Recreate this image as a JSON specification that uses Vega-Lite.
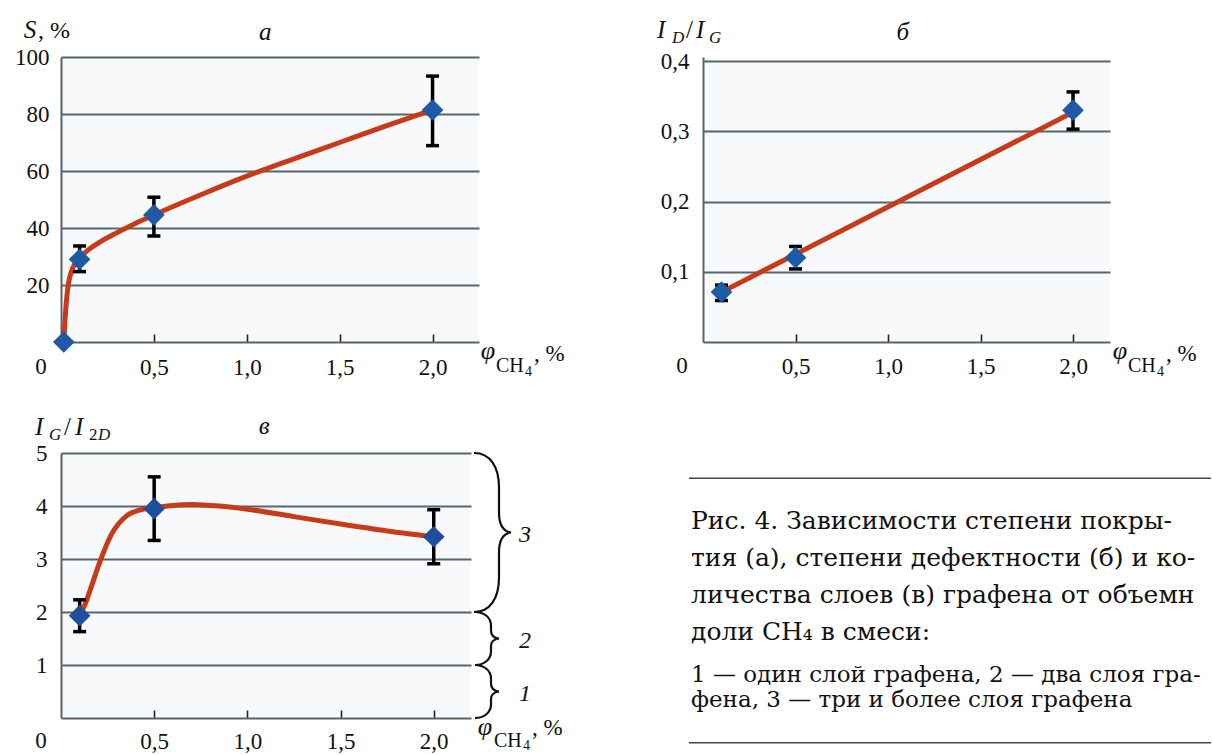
{
  "$schema": "https://vega.github.io/schema/vega-lite/v6.json",
  "background": "white",
  "padding": {"left": 14, "top": 18, "right": 0, "bottom": 0},
  "config": {
    "font": "Liberation Serif",
    "view": {"stroke": null},
    "axis": {"labelFont": "Liberation Serif", "labelFontSize": 23, "labelColor": "#111", "domainColor": "#56666c", "domainWidth": 2, "gridColor": "#56666c", "gridWidth": 2, "tickColor": "#222", "tickWidth": 1.6},
    "text": {"font": "Liberation Serif", "fontSize": 24, "baseline": "alphabetic", "align": "left", "color": "#111"}
  },
  "datasets": {
    "a_pts": [{"x": 0.015, "y": 0}, {"x": 0.1, "y": 29, "lo": 24.7, "hi": 33.7}, {"x": 0.5, "y": 44.6, "lo": 37.2, "hi": 50.8}, {"x": 2.0, "y": 81.4, "lo": 68.9, "hi": 93.3}],
    "a_curve": [{"x": 0.015, "y": 0}, {"x": 0.022, "y": 8}, {"x": 0.03, "y": 15}, {"x": 0.04, "y": 20.5}, {"x": 0.055, "y": 24.5}, {"x": 0.075, "y": 27.5}, {"x": 0.1, "y": 29.5}, {"x": 0.15, "y": 32.5}, {"x": 0.2, "y": 34.7}, {"x": 0.3, "y": 38.3}, {"x": 0.4, "y": 41.6}, {"x": 0.5, "y": 44.6}, {"x": 0.75, "y": 51.6}, {"x": 1.0, "y": 58.2}, {"x": 1.25, "y": 64.2}, {"x": 1.5, "y": 70}, {"x": 1.75, "y": 75.8}, {"x": 2.0, "y": 81.4}],
    "b_pts": [{"x": 0.1, "y": 0.071, "lo": 0.059, "hi": 0.081}, {"x": 0.5, "y": 0.12, "lo": 0.104, "hi": 0.136}, {"x": 2.0, "y": 0.33, "lo": 0.303, "hi": 0.356}],
    "b_curve": [{"x": 0.1, "y": 0.071}, {"x": 2.0, "y": 0.327}],
    "v_pts": [{"x": 0.1, "y": 1.93, "lo": 1.63, "hi": 2.23}, {"x": 0.5, "y": 3.95, "lo": 3.35, "hi": 4.55}, {"x": 2.0, "y": 3.42, "lo": 2.91, "hi": 3.93}],
    "v_curve": [{"x": 0.1, "y": 1.93}, {"x": 0.13, "y": 2.15}, {"x": 0.16, "y": 2.45}, {"x": 0.21, "y": 2.96}, {"x": 0.27, "y": 3.46}, {"x": 0.35, "y": 3.81}, {"x": 0.42, "y": 3.92}, {"x": 0.5, "y": 3.97}, {"x": 0.6, "y": 4.01}, {"x": 0.7, "y": 4.03}, {"x": 0.85, "y": 4.0}, {"x": 1.0, "y": 3.94}, {"x": 1.25, "y": 3.8}, {"x": 1.5, "y": 3.66}, {"x": 1.75, "y": 3.53}, {"x": 2.0, "y": 3.42}],
    "v_braces": [{"n": "1", "mid": 0.5}, {"n": "2", "mid": 1.5}, {"n": "3", "mid": 3.5}]
  },
  "columns": 2,
  "spacing": {"row": 111, "column": 224},
  "bounds": "flush",
  "concat": [
    {
      "width": 418, "height": 285,
      "view": {"fill": "#f8f9fb"},
      "layer": [
        {"data": {"name": "a_curve"}, "mark": {"type": "line", "color": "#c73b1b", "strokeWidth": 5, "interpolate": "monotone"},
         "encoding": {
           "x": {"field": "x", "type": "quantitative", "scale": {"domain": [0, 2.25], "nice": false, "zero": false},
                 "axis": {"values": [0.5, 1, 1.5, 2], "labelExpr": "replace(format(datum.value,'.1f'),'.',',')", "labelFont": "Liberation Serif", "title": null, "grid": false, "tickSize": -8, "labelPadding": 33, "labelBaseline": "middle"}},
           "y": {"field": "y", "type": "quantitative", "scale": {"domain": [0, 100], "nice": false},
                 "axis": {"values": [20, 40, 60, 80, 100], "labelFont": "Liberation Serif", "title": null, "grid": true, "ticks": false, "labelPadding": 12}}}},
        {"data": {"name": "a_pts"}, "mark": {"type": "rule", "color": "#000", "strokeWidth": 3.5},
         "encoding": {"x": {"field": "x", "type": "quantitative", "axis": {"title": null}}, "y": {"field": "lo", "type": "quantitative", "axis": {"title": null}}, "y2": {"field": "hi"}}},
        {"data": {"name": "a_pts"}, "mark": {"type": "tick", "orient": "horizontal", "size": 13, "thickness": 3.5, "color": "#000", "opacity": 1},
         "encoding": {"x": {"field": "x", "type": "quantitative", "axis": {"title": null}}, "y": {"field": "lo", "type": "quantitative", "axis": {"title": null}}}},
        {"data": {"name": "a_pts"}, "mark": {"type": "tick", "orient": "horizontal", "size": 13, "thickness": 3.5, "color": "#000", "opacity": 1},
         "encoding": {"x": {"field": "x", "type": "quantitative", "axis": {"title": null}}, "y": {"field": "hi", "type": "quantitative", "axis": {"title": null}}}},
        {"data": {"name": "a_pts"}, "mark": {"type": "point", "shape": "diamond", "filled": true, "color": "#1f5aa6", "size": 470, "opacity": 1},
         "encoding": {"x": {"field": "x", "type": "quantitative", "axis": {"title": null}}, "y": {"field": "y", "type": "quantitative", "axis": {"title": null}}}},
        {"data": {"values": [{}]}, "mark": {"type": "text", "text": "S", "fontSize": 25, "fontStyle": "italic", "align": "center", "dx": -31, "dy": -19},
         "encoding": {"x": {"datum": 0, "axis": {"title": null}}, "y": {"datum": 100, "axis": {"title": null}}}},
        {"data": {"values": [{}]}, "mark": {"type": "text", "text": ", %", "fontSize": 24, "dx": -23, "dy": -19},
         "encoding": {"x": {"datum": 0, "axis": {"title": null}}, "y": {"datum": 100, "axis": {"title": null}}}},
        {"data": {"values": [{}]}, "mark": {"type": "text", "text": "а", "fontSize": 25, "fontStyle": "italic", "align": "center", "baseline": "middle", "dy": -25},
         "encoding": {"x": {"datum": 1.1, "axis": {"title": null}}, "y": {"datum": 100, "axis": {"title": null}}}},
        {"data": {"values": [{}]}, "mark": {"type": "text", "text": "0", "fontSize": 23, "align": "center", "baseline": "middle", "dx": -20, "dy": 25},
         "encoding": {"x": {"datum": 0, "axis": {"title": null}}, "y": {"datum": 0, "axis": {"title": null}}}},
        {"data": {"values": [{}]}, "mark": {"type": "text", "text": "φ", "fontSize": 26, "fontStyle": "italic", "align": "center", "dx": 9, "dy": 17},
         "encoding": {"x": {"datum": 2.25, "axis": {"title": null}}, "y": {"datum": 0, "axis": {"title": null}}}},
        {"data": {"values": [{}]}, "mark": {"type": "text", "text": "CH", "fontSize": 20, "dx": 17, "dy": 30},
         "encoding": {"x": {"datum": 2.25, "axis": {"title": null}}, "y": {"datum": 0, "axis": {"title": null}}}},
        {"data": {"values": [{}]}, "mark": {"type": "text", "text": "4", "fontSize": 14, "dx": 46, "dy": 34},
         "encoding": {"x": {"datum": 2.25, "axis": {"title": null}}, "y": {"datum": 0, "axis": {"title": null}}}},
        {"data": {"values": [{}]}, "mark": {"type": "text", "text": ", %", "fontSize": 23, "dx": 55, "dy": 19},
         "encoding": {"x": {"datum": 2.25, "axis": {"title": null}}, "y": {"datum": 0, "axis": {"title": null}}}}
      ]
    },
    {
      "width": 407, "height": 285,
      "view": {"fill": "#f8f9fb"},
      "layer": [
        {"data": {"name": "b_curve"}, "mark": {"type": "line", "color": "#c73b1b", "strokeWidth": 5},
         "encoding": {
           "x": {"field": "x", "type": "quantitative", "scale": {"domain": [0, 2.2], "nice": false, "zero": false},
                 "axis": {"values": [0.5, 1, 1.5, 2], "labelExpr": "replace(format(datum.value,'.1f'),'.',',')", "labelFont": "Liberation Serif", "title": null, "grid": false, "tickSize": -8, "labelPadding": 32, "labelBaseline": "middle"}},
           "y": {"field": "y", "type": "quantitative", "scale": {"domain": [0, 0.4057], "nice": false},
                 "axis": {"values": [0.1, 0.2, 0.3, 0.4], "labelExpr": "replace(format(datum.value,'.1f'),'.',',')", "labelFont": "Liberation Serif", "title": null, "grid": true, "ticks": false, "labelPadding": 14}}}},
        {"data": {"name": "b_pts"}, "mark": {"type": "rule", "color": "#000", "strokeWidth": 3.5},
         "encoding": {"x": {"field": "x", "type": "quantitative", "axis": {"title": null}}, "y": {"field": "lo", "type": "quantitative", "axis": {"title": null}}, "y2": {"field": "hi"}}},
        {"data": {"name": "b_pts"}, "mark": {"type": "tick", "orient": "horizontal", "size": 13, "thickness": 3.5, "color": "#000", "opacity": 1},
         "encoding": {"x": {"field": "x", "type": "quantitative", "axis": {"title": null}}, "y": {"field": "lo", "type": "quantitative", "axis": {"title": null}}}},
        {"data": {"name": "b_pts"}, "mark": {"type": "tick", "orient": "horizontal", "size": 13, "thickness": 3.5, "color": "#000", "opacity": 1},
         "encoding": {"x": {"field": "x", "type": "quantitative", "axis": {"title": null}}, "y": {"field": "hi", "type": "quantitative", "axis": {"title": null}}}},
        {"data": {"name": "b_pts"}, "mark": {"type": "point", "shape": "diamond", "filled": true, "color": "#1f5aa6", "size": 470, "opacity": 1},
         "encoding": {"x": {"field": "x", "type": "quantitative", "axis": {"title": null}}, "y": {"field": "y", "type": "quantitative", "axis": {"title": null}}}},
        {"data": {"values": [{}]}, "mark": {"type": "text", "text": "I", "fontSize": 25, "fontStyle": "italic", "dx": -46, "dy": -23},
         "encoding": {"x": {"datum": 0, "axis": {"title": null}}, "y": {"datum": 0.4, "axis": {"title": null}}}},
        {"data": {"values": [{}]}, "mark": {"type": "text", "text": "D", "fontSize": 17, "fontStyle": "italic", "dx": -31, "dy": -18},
         "encoding": {"x": {"datum": 0, "axis": {"title": null}}, "y": {"datum": 0.4, "axis": {"title": null}}}},
        {"data": {"values": [{}]}, "mark": {"type": "text", "text": "/", "fontSize": 25, "dx": -17, "dy": -23},
         "encoding": {"x": {"datum": 0, "axis": {"title": null}}, "y": {"datum": 0.4, "axis": {"title": null}}}},
        {"data": {"values": [{}]}, "mark": {"type": "text", "text": "I", "fontSize": 25, "fontStyle": "italic", "dx": -7, "dy": -23},
         "encoding": {"x": {"datum": 0, "axis": {"title": null}}, "y": {"datum": 0.4, "axis": {"title": null}}}},
        {"data": {"values": [{}]}, "mark": {"type": "text", "text": "G", "fontSize": 17, "fontStyle": "italic", "dx": 6, "dy": -18},
         "encoding": {"x": {"datum": 0, "axis": {"title": null}}, "y": {"datum": 0.4, "axis": {"title": null}}}},
        {"data": {"values": [{}]}, "mark": {"type": "text", "text": "б", "fontSize": 25, "fontStyle": "italic", "align": "center", "baseline": "middle", "dy": -29},
         "encoding": {"x": {"datum": 1.08, "axis": {"title": null}}, "y": {"datum": 0.4, "axis": {"title": null}}}},
        {"data": {"values": [{}]}, "mark": {"type": "text", "text": "0", "fontSize": 23, "align": "center", "baseline": "middle", "dx": -21, "dy": 24},
         "encoding": {"x": {"datum": 0, "axis": {"title": null}}, "y": {"datum": 0, "axis": {"title": null}}}},
        {"data": {"values": [{}]}, "mark": {"type": "text", "text": "φ", "fontSize": 26, "fontStyle": "italic", "align": "center", "dx": 10, "dy": 17},
         "encoding": {"x": {"datum": 2.2, "axis": {"title": null}}, "y": {"datum": 0, "axis": {"title": null}}}},
        {"data": {"values": [{}]}, "mark": {"type": "text", "text": "CH", "fontSize": 20, "dx": 18, "dy": 30},
         "encoding": {"x": {"datum": 2.2, "axis": {"title": null}}, "y": {"datum": 0, "axis": {"title": null}}}},
        {"data": {"values": [{}]}, "mark": {"type": "text", "text": "4", "fontSize": 14, "dx": 47, "dy": 34},
         "encoding": {"x": {"datum": 2.2, "axis": {"title": null}}, "y": {"datum": 0, "axis": {"title": null}}}},
        {"data": {"values": [{}]}, "mark": {"type": "text", "text": ", %", "fontSize": 23, "dx": 56, "dy": 19},
         "encoding": {"x": {"datum": 2.2, "axis": {"title": null}}, "y": {"datum": 0, "axis": {"title": null}}}}
      ]
    },
    {
      "width": 410, "height": 265,
      "view": {"fill": "#f8f9fb"},
      "layer": [
        {"data": {"name": "v_curve"}, "mark": {"type": "line", "color": "#c73b1b", "strokeWidth": 5, "interpolate": "monotone"},
         "encoding": {
           "x": {"field": "x", "type": "quantitative", "scale": {"domain": [0, 2.2], "nice": false, "zero": false},
                 "axis": {"values": [0.5, 1, 1.5, 2], "labelExpr": "replace(format(datum.value,'.1f'),'.',',')", "labelFont": "Liberation Serif", "title": null, "grid": false, "tickSize": -8, "labelPadding": 31, "labelBaseline": "middle"}},
           "y": {"field": "y", "type": "quantitative", "scale": {"domain": [0, 5], "nice": false},
                 "axis": {"values": [1, 2, 3, 4, 5], "labelFont": "Liberation Serif", "title": null, "grid": true, "ticks": false, "labelPadding": 14}}}},
        {"data": {"name": "v_pts"}, "mark": {"type": "rule", "color": "#000", "strokeWidth": 3.5},
         "encoding": {"x": {"field": "x", "type": "quantitative", "axis": {"title": null}}, "y": {"field": "lo", "type": "quantitative", "axis": {"title": null}}, "y2": {"field": "hi"}}},
        {"data": {"name": "v_pts"}, "mark": {"type": "tick", "orient": "horizontal", "size": 13, "thickness": 3.5, "color": "#000", "opacity": 1},
         "encoding": {"x": {"field": "x", "type": "quantitative", "axis": {"title": null}}, "y": {"field": "lo", "type": "quantitative", "axis": {"title": null}}}},
        {"data": {"name": "v_pts"}, "mark": {"type": "tick", "orient": "horizontal", "size": 13, "thickness": 3.5, "color": "#000", "opacity": 1},
         "encoding": {"x": {"field": "x", "type": "quantitative", "axis": {"title": null}}, "y": {"field": "hi", "type": "quantitative", "axis": {"title": null}}}},
        {"data": {"name": "v_pts"}, "mark": {"type": "point", "shape": "diamond", "filled": true, "color": "#1f4f9a", "size": 470, "opacity": 1},
         "encoding": {"x": {"field": "x", "type": "quantitative", "axis": {"title": null}}, "y": {"field": "y", "type": "quantitative", "axis": {"title": null}}}},
        {"data": {"name": "v_braces"}, "mark": {"type": "point", "filled": false, "stroke": "#111", "strokeWidth": 2.2, "size": 4, "opacity": 1},
         "encoding": {"x": {"datum": 2.2, "axis": {"title": null}}, "y": {"field": "mid", "type": "quantitative", "axis": {"title": null}},
                      "shape": {"field": "n", "type": "nominal", "legend": null, "scale": {"domain": ["1", "2", "3"], "range": [
                        "M4,-26.5C13,-26.5 20,-21 20,-13L20,-8C20,-3 23,-0.5 28,0C23,0.5 20,3 20,8L20,13C20,21 13,26.5 4,26.5",
                        "M4,-26.5C13,-26.5 20,-21 20,-13L20,-8C20,-3 23,-0.5 28,0C23,0.5 20,3 20,8L20,13C20,21 13,26.5 4,26.5",
                        "M3,-79.5C19,-79.5 28,-66 28,-45L28,-20C28,-7 33,-1 40,0C33,1 28,7 28,20L28,45C28,66 19,79.5 3,79.5"]}}}},
        {"data": {"name": "v_braces"}, "mark": {"type": "text", "fontSize": 24, "fontStyle": "italic", "baseline": "middle", "dx": 48, "dy": 2},
         "encoding": {"x": {"datum": 2.2, "axis": {"title": null}}, "y": {"field": "mid", "type": "quantitative", "axis": {"title": null}}, "text": {"field": "n"}}},
        {"data": {"values": [{}]}, "mark": {"type": "text", "text": "I", "fontSize": 25, "fontStyle": "italic", "dx": -26, "dy": -18},
         "encoding": {"x": {"datum": 0, "axis": {"title": null}}, "y": {"datum": 5, "axis": {"title": null}}}},
        {"data": {"values": [{}]}, "mark": {"type": "text", "text": "G", "fontSize": 17, "fontStyle": "italic", "dx": -12, "dy": -13},
         "encoding": {"x": {"datum": 0, "axis": {"title": null}}, "y": {"datum": 5, "axis": {"title": null}}}},
        {"data": {"values": [{}]}, "mark": {"type": "text", "text": "/", "fontSize": 25, "dx": 3, "dy": -18},
         "encoding": {"x": {"datum": 0, "axis": {"title": null}}, "y": {"datum": 5, "axis": {"title": null}}}},
        {"data": {"values": [{}]}, "mark": {"type": "text", "text": "I", "fontSize": 25, "fontStyle": "italic", "dx": 14, "dy": -18},
         "encoding": {"x": {"datum": 0, "axis": {"title": null}}, "y": {"datum": 5, "axis": {"title": null}}}},
        {"data": {"values": [{}]}, "mark": {"type": "text", "text": "2", "fontSize": 17, "dx": 28, "dy": -13},
         "encoding": {"x": {"datum": 0, "axis": {"title": null}}, "y": {"datum": 5, "axis": {"title": null}}}},
        {"data": {"values": [{}]}, "mark": {"type": "text", "text": "D", "fontSize": 17, "fontStyle": "italic", "dx": 37, "dy": -13},
         "encoding": {"x": {"datum": 0, "axis": {"title": null}}, "y": {"datum": 5, "axis": {"title": null}}}},
        {"data": {"values": [{}]}, "mark": {"type": "text", "text": "в", "fontSize": 25, "fontStyle": "italic", "align": "center", "baseline": "middle", "dy": -27},
         "encoding": {"x": {"datum": 1.09, "axis": {"title": null}}, "y": {"datum": 5, "axis": {"title": null}}}},
        {"data": {"values": [{}]}, "mark": {"type": "text", "text": "0", "fontSize": 23, "align": "center", "baseline": "middle", "dx": -20, "dy": 23},
         "encoding": {"x": {"datum": 0, "axis": {"title": null}}, "y": {"datum": 0, "axis": {"title": null}}}},
        {"data": {"values": [{}]}, "mark": {"type": "text", "text": "φ", "fontSize": 26, "fontStyle": "italic", "align": "center", "dx": 14, "dy": 17},
         "encoding": {"x": {"datum": 2.2, "axis": {"title": null}}, "y": {"datum": 0, "axis": {"title": null}}}},
        {"data": {"values": [{}]}, "mark": {"type": "text", "text": "CH", "fontSize": 20, "dx": 23, "dy": 29},
         "encoding": {"x": {"datum": 2.2, "axis": {"title": null}}, "y": {"datum": 0, "axis": {"title": null}}}},
        {"data": {"values": [{}]}, "mark": {"type": "text", "text": "4", "fontSize": 14, "dx": 52, "dy": 32},
         "encoding": {"x": {"datum": 2.2, "axis": {"title": null}}, "y": {"datum": 0, "axis": {"title": null}}}},
        {"data": {"values": [{}]}, "mark": {"type": "text", "text": ", %", "fontSize": 23, "dx": 61, "dy": 17},
         "encoding": {"x": {"datum": 2.2, "axis": {"title": null}}, "y": {"datum": 0, "axis": {"title": null}}}}
      ]
    },
    {
      "width": 508, "height": 288,
      "layer": [
        {"data": {"values": [{}]}, "mark": {"type": "rule", "color": "#444", "strokeWidth": 1.5},
         "encoding": {"y": {"datum": 0.7, "scale": {"domain": [0, 8], "reverse": true, "nice": false}, "axis": null},
                      "x": {"datum": -0.0276, "scale": {"domain": [0, 1], "nice": false, "zero": false}, "axis": null}, "x2": {"datum": 1}}},
        {"data": {"values": [{}]}, "mark": {"type": "rule", "color": "#444", "strokeWidth": 1.5},
         "encoding": {"y": {"datum": 8.05, "axis": null}, "x": {"datum": -0.0276, "axis": null}, "x2": {"datum": 1}}},
        {"data": {"values": [{}]}, "mark": {"type": "text", "font": "DejaVu Serif", "fontSize": 25, "lineHeight": 37, "dx": -12, "limit": 520, "ellipsis": " ",
           "text": ["Рис. 4.  Зависимости степени покры-", "тия (а), степени дефектности (б) и ко-", "личества слоев (в) графена от объемной", "доли CH₄ в смеси:"]},
         "encoding": {"x": {"datum": 0, "axis": null}, "y": {"datum": 2.1, "axis": null}}},
        {"data": {"values": [{}]}, "mark": {"type": "text", "font": "DejaVu Serif", "fontSize": 23, "lineHeight": 25, "dx": -12, "limit": 520, "ellipsis": " ",
           "text": ["1 — один слой графена, 2 — два слоя гра-", "фена, 3 — три и более слоя графена"]},
         "encoding": {"x": {"datum": 0, "axis": null}, "y": {"datum": 6.36, "axis": null}}}
      ]
    }
  ]
}
